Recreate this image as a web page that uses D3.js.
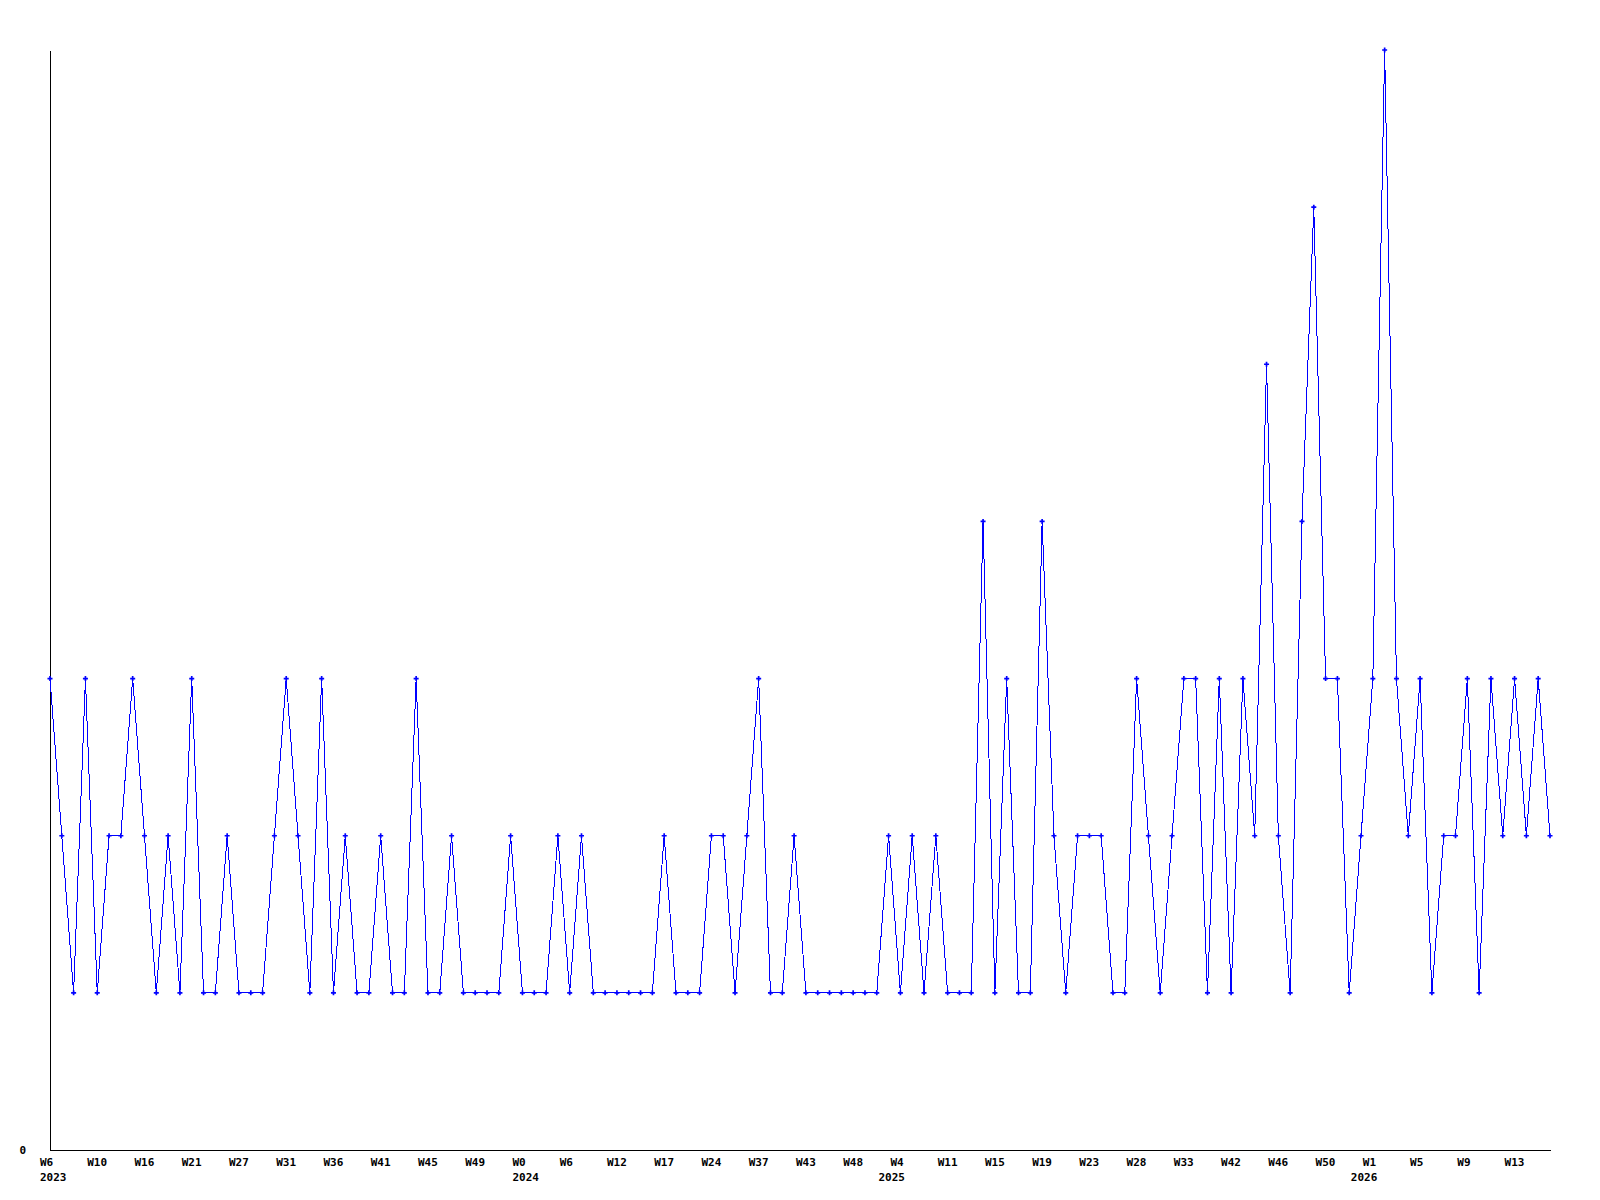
<!DOCTYPE html>
<html>
<script src="https://d3js.org/d3.v7.min.js"></script>

<head>
    <style>
        body {
            margin: 0;
            background-color: #ffffff;
        }

        svg {
            display: block;
        }

        .tick text {
            font-family: "DejaVu Sans Mono", monospace;
            font-weight: bold;
            font-size: 11px;
            fill: #000;
        }
    </style>
</head>

<body>
</body>
<script>
    const width = 1600,
        height = 1200;

    // one value per week with data, oldest first
    const counts = [
        3, 2, 1, 3, 1, 2, 2, 3, 2, 1, 2, 1, 3, 1, 1, 2, 1, 1, 1, 2, 3, 2, 1, 3, 1, 2, 1, 1, 2, 1, 1, 3, 1, 1,
        2, 1, 1, 1, 1, 2, 1, 1, 1, 2, 1, 2, 1, 1, 1, 1, 1, 1, 2, 1, 1, 1, 2, 2, 1, 2, 3, 1, 1, 2, 1, 1, 1,
        1, 1, 1, 1, 2, 1, 2, 1, 2, 1, 1, 1, 4, 1, 3, 1, 1, 4, 2, 1, 2, 2, 2, 1, 1, 3, 2, 1, 2, 3, 3, 1, 3, 1, 3,
        2, 5, 2, 1, 4, 6, 3, 3, 1, 2, 3, 7, 3, 2, 3, 1, 2, 2, 3, 1, 3, 2, 3, 2, 3, 2
    ];

    // a label every 4th point
    const weekLabels = ["W6", "W10", "W16", "W21", "W27", "W31", "W36", "W41", "W45", "W49",
        "W0", "W6", "W12", "W17", "W24", "W37", "W43", "W48",
        "W4", "W11", "W15", "W19", "W23", "W28", "W33", "W42", "W46", "W50",
        "W1", "W5", "W9", "W13"];
    const labelStep = 4;

    // year shown under the first label of that year (label index -> year)
    const yearLabels = [[0, "2023"], [10, "2024"], [18, "2025"], [28, "2026"]];

    const yMax = 7;

    const svg = d3.select("body").append("svg").attr("width", width).attr("height", height);

    const x = d3.scaleLinear().domain([0, counts.length - 1]).range([50, 1550]);
    const y = d3.scaleLinear().domain([0, yMax]).range([1150, 50]);

    const tickIdx = weekLabels.map((d, i) => i * labelStep);
    const yearOf = new Map(yearLabels.map(d => [d[0] * labelStep, d[1]]));

    // x axis
    const xAxis = svg.append("g")
        .attr("transform", `translate(0,${y(0)})`)
        .call(d3.axisBottom(x)
            .tickValues(tickIdx)
            .tickSize(0)
            .tickSizeOuter(0)
            .tickFormat((d, i) => weekLabels[i]));
    xAxis.select(".domain").attr("stroke", "#000").attr("shape-rendering", "crispEdges");
    xAxis.selectAll(".tick text")
        .attr("text-anchor", "start")
        .attr("dx", -10.5)
        .attr("y", 16)
        .attr("dy", 0);
    xAxis.selectAll(".tick")
        .filter(d => yearOf.has(d))
        .append("text")
        .attr("text-anchor", "start")
        // later years sit a little further left in the original
        .attr("x", d => +yearOf.get(d) >= 2025 ? -22.5 : -10.5)
        .attr("y", 31)
        .text(d => yearOf.get(d));

    // y axis, only the zero label
    const yAxis = svg.append("g")
        .attr("transform", `translate(${x(0)},0)`)
        .call(d3.axisLeft(y)
            .tickValues([0])
            .tickSize(0)
            .tickSizeOuter(0)
            .tickPadding(24)
            .tickFormat(d3.format("d")));
    yAxis.select(".domain").attr("stroke", "#000").attr("shape-rendering", "crispEdges");
    yAxis.selectAll(".tick text").attr("dy", "0.32em");

    // series
    const line = d3.line()
        .x((d, i) => x(i))
        .y(d => y(d));

    svg.append("path")
        .datum(counts)
        .attr("fill", "none")
        .attr("stroke", "#0000ff")
        .attr("stroke-width", 1)
        .attr("shape-rendering", "crispEdges")
        .attr("d", line);

    svg.selectAll(".pt")
        .data(counts)
        .join("path")
        .attr("class", "pt")
        .attr("transform", (d, i) => `translate(${x(i)},${y(d)})`)
        .attr("fill", "#0000ff")
        .attr("d", d3.symbol().type(d3.symbolCross).size(14));
</script>

</html>
